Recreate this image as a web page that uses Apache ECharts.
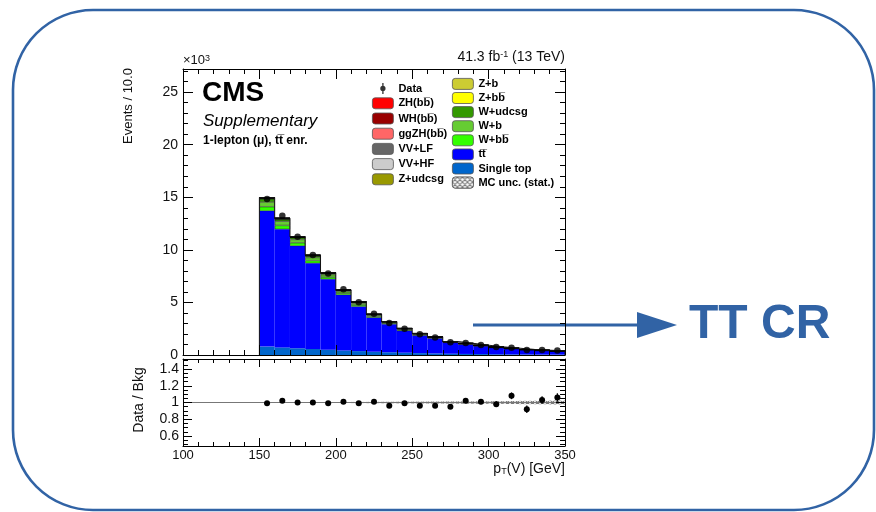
<!DOCTYPE html>
<html><head><meta charset="utf-8">
<script src="https://cdn.jsdelivr.net/npm/echarts@6/dist/echarts.min.js"></script>
<style>html,body{margin:0;padding:0;background:#fff}#c{width:876px;height:512px}</style>
</head><body><div id="c"></div>
<script>
// ---- data (x10^3 events per 10 GeV) ----
const axisBins = [100,110,120,130,140,150,160,170,180,190,200,210,220,230,240,250,260,270,280,290,300,310,320,330,340];
const binLow   = [150,160,170,180,190,200,210,220,230,240,250,260,270,280,290,300,310,320,330,340];
const singleTop = [0.80,0.72,0.64,0.57,0.50,0.43,0.37,0.31,0.26,0.22,0.18,0.15,0.12,0.10,0.09,0.07,0.06,0.05,0.04,0.04];
const ttbar     = [12.90,11.24,9.73,8.15,6.70,5.28,4.23,3.24,2.66,2.06,1.66,1.42,1.04,0.89,0.75,0.61,0.52,0.42,0.36,0.32];
const wbb       = [0.40,0.36,0.30,0.26,0.21,0.16,0.15,0.11,0.09,0.09,0.07,0.06,0.04,0.04,0.03,0.03,0.02,0.02,0.02,0.015];
const wb        = [0.45,0.40,0.32,0.28,0.22,0.17,0.16,0.12,0.09,0.08,0.07,0.05,0.04,0.04,0.03,0.03,0.02,0.02,0.02,0.015];
const wudcsg    = [0.30,0.20,0.18,0.17,0.14,0.10,0.12,0.07,0.06,0.06,0.05,0.04,0.03,0.03,0.02,0.02,0.02,0.01,0.01,0.01];
const zbb       = [0.020,0.015,0.012,0.010,0.009,0.008,0.006,0.005,0.003,0.003,0.003,0.002,0.002,0.002,0.002,0.002,0.002,0.001,0.001,0.001];
const zb        = [0.020,0.015,0.012,0.010,0.008,0.007,0.006,0.005,0.003,0.003,0.003,0.002,0.002,0.002,0.002,0.002,0.002,0.001,0.001,0.001];
const zudcsg    = [0.050,0.040,0.030,0.030,0.025,0.020,0.016,0.012,0.008,0.008,0.008,0.004,0.004,0.004,0.004,0.004,0.004,0.002,0.002,0.002];
const vvhf      = [0.013,0.010,0.009,0.007,0.006,0.005,0.004,0.003,0.002,0.002,0.002,0.001,0.001,0.001,0.001,0.001,0.001,0.0005,0.0005,0.0005];
const vvlf      = [0.020,0.016,0.013,0.011,0.009,0.008,0.006,0.004,0.003,0.003,0.003,0.001,0.001,0.001,0.001,0.001,0.001,0.0005,0.0005,0.0005];
const ggzh      = [0.0003,0.0003,0.0002,0.0002,0.0002,0.0002,0.0001,0.0001,0.0001,0.0001,0.0001,0.0001,0.0001,0.0001,0.0001,0.0001,0.0001,0.0001,0.0001,0.0001];
const wh        = [0.004,0.0035,0.003,0.0027,0.0024,0.002,0.0018,0.0015,0.0013,0.0011,0.001,0.0009,0.0008,0.0007,0.0006,0.0005,0.0004,0.0004,0.0003,0.0003];
const zh        = [0.0008,0.0007,0.0006,0.0005,0.0005,0.0004,0.0004,0.0003,0.0003,0.0003,0.0002,0.0002,0.0002,0.0002,0.0002,0.0001,0.0001,0.0001,0.0001,0.0001];
const dataVals  = [14.83,13.24,11.25,9.50,7.75,6.25,5.02,3.92,3.05,2.50,1.97,1.66,1.22,1.13,0.94,0.75,0.70,0.48,0.47,0.43];
const ratioVals = [0.99,1.02,1.00,1.00,0.99,1.01,0.99,1.01,0.96,0.99,0.96,0.96,0.95,1.02,1.01,0.98,1.08,0.92,1.03,1.06];
const ratioErr  = [0.008,0.009,0.010,0.010,0.012,0.013,0.014,0.016,0.018,0.020,0.022,0.024,0.028,0.030,0.032,0.035,0.040,0.045,0.045,0.050];
const mcUnc     = [0.004,0.004,0.005,0.005,0.006,0.006,0.007,0.008,0.009,0.010,0.011,0.012,0.013,0.014,0.015,0.016,0.018,0.020,0.021,0.023];
const xTicks = [100,150,200,250,300,350];
const mainYTicks = [0,5,10,15,20,25];
const ratioYTicks = [0.6,0.8,1,1.2,1.4];

// ---- helpers ----
const FONT = 'Liberation Sans, Arial, Helvetica, sans-serif';
const pad = axisBins.length - binLow.length;
const padArr = a => Array(pad).fill(null).concat(a);
const comps = [
  ['Single top', singleTop, '#0066cc'],
  ['tt\u0305', ttbar, '#0000ff'],
  ['W+bb\u0305', wbb, '#33ff00'],
  ['W+b', wb, '#66cc33'],
  ['W+udcsg', wudcsg, '#339900'],
  ['Z+bb\u0305', zbb, '#ffff00'],
  ['Z+b', zb, '#cccc33'],
  ['Z+udcsg', zudcsg, '#999900'],
  ['VV+HF', vvhf, '#cccccc'],
  ['VV+LF', vvlf, '#666666'],
  ['ggZH(bb\u0305)', ggzh, '#ff6666'],
  ['WH(bb\u0305)', wh, '#990000'],
  ['ZH(bb\u0305)', zh, '#ff0000']
];
const total = binLow.map((_, i) => comps.reduce((s, c) => s + c[1][i], 0));
const outline = [[binLow[0], 0]];
binLow.forEach((b, i) => outline.push([b, total[i]]));
outline.push([binLow[binLow.length-1] + 10, total[total.length-1]]);
outline.push([binLow[binLow.length-1] + 10, 0]);

const barSeries = comps.map(([name, vals, color], k) => ({
  name, type: 'bar', stack: 'mc', xAxisIndex: 0, yAxisIndex: 0,
  barCategoryGap: '0%', barGap: '0%', data: padArr(vals), silent: true,
  itemStyle: { color, borderColor: k <= 1 ? color : 'rgba(0,0,0,0.75)', borderWidth: k <= 1 ? 0 : 0.5 }
}));

const hatch = {
  symbol: 'path://M0,0L1.4,0L10,8.6L10,10L8.6,10L0,1.4Z M8.6,0L10,0L10,1.4L1.4,10L0,10L0,8.6Z',
  symbolSize: 1, dashArrayX: [5, 0], dashArrayY: [5, 0], color: '#777', backgroundColor: '#fff'
};

const tickBlack = { lineStyle: { color: '#000', width: 1 } };
function xValAxis(grid, pos, labels) {
  return {
    type: 'value', gridIndex: grid, position: pos, min: 100, max: 350, interval: 50, z: 10,
    axisLine: { show: true, onZero: false, lineStyle: { color: '#000', width: 1 } },
    axisTick: { show: true, inside: true, length: grid === 0 ? 10 : 8, ...tickBlack },
    minorTick: { show: true, splitNumber: 5, length: grid === 0 ? 5 : 4, ...tickBlack },
    splitLine: { show: false },
    axisLabel: { show: labels, color: '#111', fontSize: 13, fontFamily: FONT, margin: 3,
      formatter: v => xTicks.includes(v) ? String(v) : '' }
  };
}
function yAxisMain(pos, labels) {
  return {
    type: 'value', gridIndex: 0, position: pos, min: 0, max: 27.2, interval: 5, z: 10,
    axisLine: { show: true, onZero: false, lineStyle: { color: '#000', width: 1 } },
    axisTick: { show: true, inside: true, length: 10, ...tickBlack },
    minorTick: { show: true, splitNumber: 5, length: 5, ...tickBlack },
    splitLine: { show: false },
    axisLabel: { show: labels, color: '#111', fontSize: 14, fontFamily: FONT, margin: 5,
      formatter: v => mainYTicks.includes(v) ? String(v) : '' }
  };
}
function yAxisRatio(pos, labels) {
  return {
    type: 'value', gridIndex: 1, position: pos, min: 0.48, max: 1.52, z: 10,
    axisLine: { show: true, onZero: false, lineStyle: { color: '#000', width: 1 } },
    axisTick: { show: true, inside: true, length: 9, ...tickBlack },
    minorTick: { show: true, splitNumber: 4, length: 5, ...tickBlack },
    splitLine: { show: false },
    axisLabel: { show: labels, color: '#111', fontSize: 14, fontFamily: FONT, margin: 4,
      formatter: v => ratioYTicks.some(t => Math.abs(t - v) < 1e-6) ? String(+v.toFixed(1)) : '' }
  };
}

const option = {
  animation: false,
  backgroundColor: '#fff',
  textStyle: { fontFamily: FONT },
  grid: [
    { left: 183, top: 69, width: 382, height: 286 },
    { left: 183, top: 359, width: 382, height: 87 }
  ],
  xAxis: [
    { type: 'category', gridIndex: 0, data: axisBins.map(String), show: false, boundaryGap: true },
    xValAxis(0, 'bottom', false),
    xValAxis(0, 'top', false),
    { type: 'category', gridIndex: 1, data: axisBins.map(String), show: false, boundaryGap: true },
    xValAxis(1, 'bottom', true),
    xValAxis(1, 'top', false)
  ],
  yAxis: [
    yAxisMain('left', true),
    yAxisMain('right', false),
    yAxisRatio('left', true),
    yAxisRatio('right', false)
  ],
  legend: [
    {
      left: 367, top: 78, orient: 'vertical', itemWidth: 21, itemHeight: 11, itemGap: 3.4,
      selectedMode: false, textStyle: { fontSize: 11, fontWeight: 'bold', color: '#000', fontFamily: FONT },
      itemStyle: { borderColor: '#555', borderWidth: 0.8 },
      data: [
        { name: 'Data', icon: 'path://M4.4,0L5.6,0L5.6,10L4.4,10Z M5,2.6A2.4,2.4,0,1,1,4.99,2.6Z', itemStyle: { borderWidth: 0, color: '#000' } },
        'ZH(bb\u0305)', 'WH(bb\u0305)', 'ggZH(bb\u0305)', 'VV+LF', 'VV+HF', 'Z+udcsg'
      ]
    },
    {
      left: 447, top: 73, orient: 'vertical', itemWidth: 21, itemHeight: 11, itemGap: 2.3,
      selectedMode: false, textStyle: { fontSize: 11, fontWeight: 'bold', color: '#000', fontFamily: FONT },
      itemStyle: { borderColor: '#555', borderWidth: 0.8 },
      data: ['Z+b', 'Z+bb\u0305', 'W+udcsg', 'W+b', 'W+bb\u0305', 'tt\u0305', 'Single top', 'MC unc. (stat.)']
    }
  ],
  series: [
    ...barSeries,
    { name: 'outline', type: 'line', xAxisIndex: 1, yAxisIndex: 0, step: 'end', symbol: 'none', silent: true,
      data: outline, lineStyle: { color: '#111', width: 1 }, z: 3 },
    { name: 'Data', type: 'scatter', xAxisIndex: 1, yAxisIndex: 0, symbol: 'circle', symbolSize: 6.5,
      itemStyle: { color: '#000' }, data: binLow.map((b, i) => [b + 5, dataVals[i]]), z: 5 },
    // ratio panel
    { name: 'uncBase', type: 'bar', stack: 'unc', xAxisIndex: 3, yAxisIndex: 2, barCategoryGap: '0%', silent: true,
      itemStyle: { color: 'rgba(0,0,0,0)' }, data: padArr(mcUnc.map(u => 1 - u)) },
    { name: 'MC unc. (stat.)', type: 'bar', stack: 'unc', xAxisIndex: 3, yAxisIndex: 2, barCategoryGap: '0%', silent: true,
      itemStyle: { color: '#fff', decal: hatch }, data: padArr(mcUnc.map(u => 2 * u)) },
    { name: 'unity', type: 'line', xAxisIndex: 4, yAxisIndex: 2, symbol: 'none', silent: true,
      data: [[100, 1], [350, 1]], lineStyle: { color: '#777', width: 1 }, z: 3 },
    { name: 'Ratio', type: 'custom', xAxisIndex: 4, yAxisIndex: 2, z: 6,
      data: binLow.map((b, i) => [b + 5, ratioVals[i], ratioErr[i]]),
      renderItem: (params, api) => {
        const x = api.value(0), y = api.value(1), e = api.value(2);
        const p = api.coord([x, y]), lo = api.coord([x, y - e]), hi = api.coord([x, y + e]);
        return { type: 'group', children: [
          { type: 'line', shape: { x1: p[0], y1: lo[1], x2: p[0], y2: hi[1] }, style: { stroke: '#000', lineWidth: 1.2 } },
          { type: 'circle', shape: { cx: p[0], cy: p[1], r: 3 }, style: { fill: '#000' } }
        ] };
      } }
  ],
  graphic: [
    { type: 'rect', shape: { x: 13, y: 10, width: 861, height: 500, r: 80 }, style: { fill: 'none', stroke: '#3163a5', lineWidth: 2.6 }, silent: true, z: 0 },
    { type: 'line', shape: { x1: 473, y1: 325, x2: 640, y2: 325 }, style: { stroke: '#3163a5', lineWidth: 2.8 } },
    { type: 'polygon', shape: { points: [[637, 312], [677, 325], [637, 338]] }, style: { fill: '#3163a5' } },
    { type: 'text', x: 689, y: 349, style: { text: 'TT CR', fill: '#3163a5', font: 'bold 48px ' + FONT, textAlign: 'left', textVerticalAlign: 'bottom' } },
    { type: 'text', x: 183, y: 67, style: { text: '\u00d710{s|3}', fill: '#111', font: '13px ' + FONT, textAlign: 'left', textVerticalAlign: 'bottom',
        rich: { s: { fontSize: 9, verticalAlign: 'top', fontFamily: FONT } } } },
    { type: 'text', x: 565, y: 64, style: { text: '41.3 fb{s|-1} (13 TeV)', fill: '#111', font: '14px ' + FONT, textAlign: 'right', textVerticalAlign: 'bottom',
        rich: { s: { fontSize: 9, verticalAlign: 'top', fontFamily: FONT } } } },
    { type: 'text', x: 202, y: 107, style: { text: 'CMS', fill: '#000', font: 'bold 28px ' + FONT, textAlign: 'left', textVerticalAlign: 'bottom' } },
    { type: 'text', x: 203, y: 121, style: { text: 'Supplementary', fill: '#000', font: 'italic 17px ' + FONT, textAlign: 'left', textVerticalAlign: 'middle' } },
    { type: 'text', x: 203, y: 141, style: { text: '1-lepton (\u03bc), tt\u0305 enr.', fill: '#000', font: 'bold 12px ' + FONT, textAlign: 'left', textVerticalAlign: 'middle' } },
    { type: 'text', x: 128, y: 106, rotation: Math.PI / 2, style: { text: 'Events / 10.0', fill: '#111', font: '13px ' + FONT, textAlign: 'center', textVerticalAlign: 'middle' } },
    { type: 'text', x: 139, y: 400, rotation: Math.PI / 2, style: { text: 'Data / Bkg', fill: '#111', font: '14px ' + FONT, textAlign: 'center', textVerticalAlign: 'middle' } },
    { type: 'text', x: 565, y: 476, style: { text: 'p{s|T}(V) [GeV]', fill: '#111', font: '14px ' + FONT, textAlign: 'right', textVerticalAlign: 'bottom',
        rich: { s: { fontSize: 9, verticalAlign: 'bottom', fontFamily: FONT } } } }
  ]
};
const chart = echarts.init(document.getElementById('c'), null, { renderer: 'canvas' });
chart.setOption(option);
</script></body></html>
